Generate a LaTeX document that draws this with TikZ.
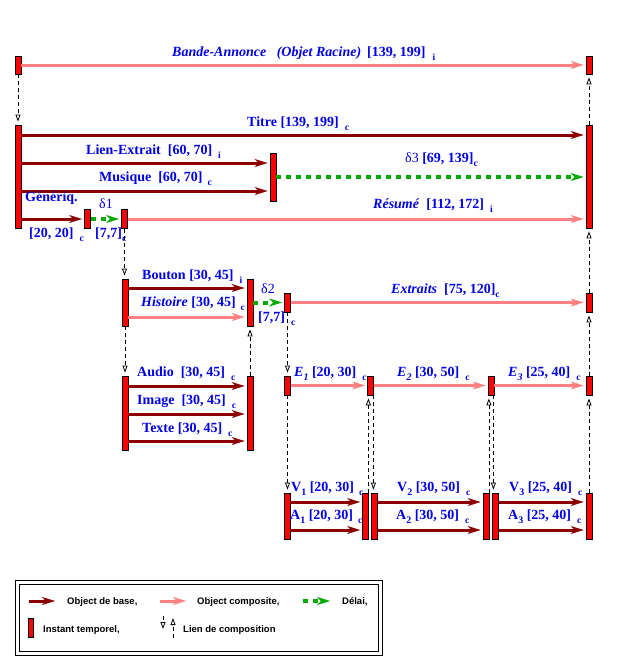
\documentclass[tikz,border=0pt]{standalone}
\usepackage{fontspec}
\setmainfont{Liberation Serif}
\newfontfamily\legfont{Liberation Sans}
\usetikzlibrary{arrows.meta}
\definecolor{baseRed}{RGB}{140,0,0}
\definecolor{compPink}{RGB}{255,128,128}
\definecolor{delayGreen}{RGB}{0,170,0}
\definecolor{lblBlue}{RGB}{0,0,230}
\newcommand{\subtag}[1]{\raisebox{-4pt}{\fontsize{9.5}{9.5}\selectfont #1}}
\newcommand{\subdig}[1]{\raisebox{-4pt}{\fontsize{10}{10}\selectfont #1}}

\begin{document}
\begin{tikzpicture}[x=1pt,y=-1pt,
    instant/.style={rectangle,draw,fill=red,line width=0.8pt,minimum width=6,inner sep=0pt},
    base arrow/.style={draw=baseRed,line width=3pt,-{Stealth[length=13pt,width=8pt,inset=4pt,line width=0.5pt]},shorten >=2pt},
    comp arrow/.style={draw=compPink,line width=3pt,-{Stealth[length=13pt,width=8pt,inset=4pt,line width=0.5pt]},shorten >=2pt},
    delay arrow/.style={draw=delayGreen,line width=4pt,dash pattern=on 5pt off 5pt,-{Stealth[length=13pt,width=8pt,inset=4pt,line width=0.5pt]},shorten >=2pt},
    link/.style={line width=0.7pt,dash pattern=on 4pt off 3pt,-{Triangle[open,length=7pt,width=5pt,line width=0.8pt]},shorten >=3pt},
    lbl/.style={anchor=base west,inner sep=0pt,text=lblBlue,font=\fontsize{14}{16}\selectfont\bfseries},
    legtext/.style={anchor=base west,inner sep=0pt,font=\legfont\fontsize{9.5}{11}\selectfont\bfseries}]
    \useasboundingbox (0,0) rectangle (634,670);
    % instants
    \node at (18,65) [instant,minimum height=18] (A1) {};
    \node at (589,65) [instant,minimum height=18] (A2) {};
    \node at (18,176.5) [instant,minimum height=103] (T1) {};
    \node at (589,176.5) [instant,minimum height=103] (T2) {};
    \node at (273,177) [instant,minimum height=48] (L) {};
    \node at (87.5,219) [instant,minimum height=19] (G) {};
    \node at (124.5,219) [instant,minimum height=19] (R) {};
    \node at (125,302.5) [instant,minimum height=47] (B1) {};
    \node at (250,302.5) [instant,minimum height=47] (B2) {};
    \node at (287.5,302.5) [instant,minimum height=19] (X1) {};
    \node at (589,302.5) [instant,minimum height=19] (X2) {};
    \node at (125,413) [instant,minimum height=74] (H1) {};
    \node at (250,413) [instant,minimum height=74] (H2) {};
    \node at (287.5,385.5) [instant,minimum height=19] (E1) {};
    \node at (370.5,385.5) [instant,minimum height=19] (E2) {};
    \node at (491,385.5) [instant,minimum height=19] (E3) {};
    \node at (589,385.5) [instant,minimum height=19] (E4) {};
    \node at (287,516) [instant,minimum height=46] (V1) {};
    \node at (365.5,516) [instant,minimum height=46] (V2) {};
    \node at (374.5,516) [instant,minimum height=46] (V3) {};
    \node at (486,516) [instant,minimum height=46] (V4) {};
    \node at (495.5,516) [instant,minimum height=46] (V5) {};
    \node at (589,516) [instant,minimum height=46] (V6) {};
    % objets
    \draw [comp arrow] (A1.east) -- (A2.west);
    \draw [base arrow] (T1.east |- 0,135) -- (T2.west |- 0,135);
    \draw [base arrow] (T1.east |- 0,163) -- (L.west |- 0,163);
    \draw [base arrow] (T1.east |- 0,191) -- (L.west |- 0,191);
    \draw [delay arrow] (L.east) -- (L.east -| T2.west);
    \draw [base arrow] (T1.east |- G.west) -- (G.west);
    \draw [delay arrow] (G.east) -- (R.west);
    \draw [comp arrow] (R.east) -- (R.east -| T2.west);
    \draw [base arrow] (B1.east |- 0,288) -- (B2.west |- 0,288);
    \draw [comp arrow] (B1.east |- 0,317) -- (B2.west |- 0,317);
    \draw [delay arrow] (B2.east |- X1.west) -- (X1.west);
    \draw [comp arrow] (X1.east) -- (X2.west);
    \draw [base arrow] (H1.east |- 0,386) -- (H2.west |- 0,386);
    \draw [base arrow] (H1.east |- 0,414) -- (H2.west |- 0,414);
    \draw [base arrow] (H1.east |- 0,441) -- (H2.west |- 0,441);
    \draw [comp arrow] (E1.east) -- (E2.west);
    \draw [comp arrow] (E2.east) -- (E3.west);
    \draw [comp arrow] (E3.east) -- (E4.west);
    \draw [base arrow] (V1.east |- 0,502) -- (V2.west |- 0,502);
    \draw [base arrow] (V1.east |- 0,530) -- (V2.west |- 0,530);
    \draw [base arrow] (V3.east |- 0,502) -- (V4.west |- 0,502);
    \draw [base arrow] (V3.east |- 0,530) -- (V4.west |- 0,530);
    \draw [base arrow] (V5.east |- 0,502) -- (V6.west |- 0,502);
    \draw [base arrow] (V5.east |- 0,530) -- (V6.west |- 0,530);
    % liens de composition
    \draw [link] (A1.south) -- (T1.north);
    \draw [link] (T2.north) -- (A2.south);
    \draw [link] (R.south) -- (R.south |- B1.north);
    \draw [link] (X2.north) -- (T2.south);
    \draw [link] (B1.south) -- (H1.north);
    \draw [link] (H2.north) -- (B2.south);
    \draw [link] (X1.south) -- (X1.south |- E1.north);
    \draw [link] (E4.north) -- (X2.south);
    \draw [link] (E1.south) -- (E1.south |- V1.north);
    \draw [link] ([xshift=-0.5]V2.north east) -- ([xshift=-0.5]V2.north east |- E2.south);
    \draw [link] ([xshift=-0.5]E2.south east) -- ([xshift=-0.5]E2.south east |- V3.north);
    \draw [link] ([xshift=-0.5]V4.north east) -- ([xshift=-0.5]V4.north east |- E3.south);
    \draw [link] ([xshift=-1]E3.south east) -- ([xshift=-1]E3.south east |- V5.north);
    \draw [link] (V6.north) -- (E4.south);
    % etiquettes
    \node at (172,56) [lbl] (lBA) {\textit{Bande-Annonce\ \ \ (Objet Racine)}\hspace{6pt}[139, 199]\hspace{7pt}\subtag{i}};
    \node at (247,126) [lbl] (lTi) {Titre [139, 199]\hspace{6pt}\subtag{c}};
    \node at (86,154) [lbl] (lLE) {Lien-Extrait\ \ [60, 70]\hspace{6pt}\subtag{i}};
    \node at (99,181) [lbl] (lMu) {Musique\ \ [60, 70]\hspace{5pt}\subtag{c}};
    \node at (405,162) [lbl] (lD3) {{\mdseries δ3} [69, 139]\subtag{c}};
    \node at (25,201) [lbl] (lGe) {Génériq.};
    \node at (29,237) [lbl] (lGd) {[20, 20]\hspace{6pt}\subtag{c}};
    \node at (99,208) [lbl] (lD1) {\mdseries δ1};
    \node at (95,237) [lbl] (lD1d) {[7,7]\subtag{c}};
    \node at (373,208) [lbl] (lRe) {\textit{Résumé}\ \ [112, 172]\hspace{6pt}\subtag{i}};
    \node at (142,279) [lbl] (lBo) {Bouton [30, 45]\hspace{6pt}\subtag{i}};
    \node at (141,306) [lbl] (lHi) {\textit{Histoire} [30, 45]\hspace{5pt}\subtag{c}};
    \node at (261,293) [lbl] (lD2) {\mdseries δ2};
    \node at (258,321) [lbl] (lD2d) {[7,7]\hspace{6pt}\subtag{c}};
    \node at (391,293) [lbl] (lEx) {\textit{Extraits}\ \ [75, 120]\subtag{c}};
    \node at (137,376) [lbl] (lAu) {Audio\ \ [30, 45]\hspace{6pt}\subtag{c}};
    \node at (137,404) [lbl] (lIm) {Image\ \ [30, 45]\hspace{6pt}\subtag{c}};
    \node at (142,432) [lbl] (lTe) {Texte [30, 45]\hspace{6pt}\subtag{c}};
    \node at (294,376) [lbl] (lE1) {\textit{E\subdig{1}} [20, 30]\hspace{6pt}\subtag{c}};
    \node at (397,376) [lbl] (lE2) {\textit{E\subdig{2}} [30, 50]\hspace{6pt}\subtag{c}};
    \node at (508,376) [lbl] (lE3) {\textit{E\subdig{3}} [25, 40]\hspace{6pt}\subtag{c}};
    \node at (291,491) [lbl] (lV1) {V\subdig{1} [20, 30]\hspace{5pt}\subtag{c}};
    \node at (290,519) [lbl] (lA1) {A\subdig{1} [20, 30]\hspace{5pt}\subtag{c}};
    \node at (397,491) [lbl] (lV2) {V\subdig{2} [30, 50]\hspace{6pt}\subtag{c}};
    \node at (396,519) [lbl] (lA2) {A\subdig{2} [30, 50]\hspace{6pt}\subtag{c}};
    \node at (509,491) [lbl] (lV3) {V\subdig{3} [25, 40]\hspace{6pt}\subtag{c}};
    \node at (508,519) [lbl] (lA3) {A\subdig{3} [25, 40]\hspace{6pt}\subtag{c}};
    % legende
    \draw [line width=0.8pt] (15,580) rectangle (382,655);
    \draw [line width=0.8pt] (19,584) rectangle (378,651);
    \coordinate (k1) at (29,601);
    \coordinate (k2) at (57,601);
    \draw [base arrow] (k1) -- (k2);
    \node at (67,604) [legtext] (t1) {Object de base,};
    \coordinate (k3) at (160,601);
    \coordinate (k4) at (188,601);
    \draw [comp arrow] (k3) -- (k4);
    \node at (197,604) [legtext] (t2) {Object composite,};
    \coordinate (k5) at (303,601);
    \coordinate (k6) at (332,601);
    \draw [delay arrow] (k5) -- (k6);
    \node at (342,604) [legtext] (t3) {Délai,};
    \node at (31,627.5) [instant,minimum width=5,minimum height=19] (kI) {};
    \node at (43,632) [legtext] (t4) {Instant temporel,};
    \coordinate (c1) at (163,616);
    \coordinate (c2) at (163,629);
    \draw [link,shorten >=0pt] (c1) -- (c2);
    \coordinate (c3) at (173,638);
    \coordinate (c4) at (173,618);
    \draw [link,shorten >=0pt] (c3) -- (c4);
    \node at (183,632) [legtext] (t5) {Lien de composition};
\end{tikzpicture}
\end{document}
